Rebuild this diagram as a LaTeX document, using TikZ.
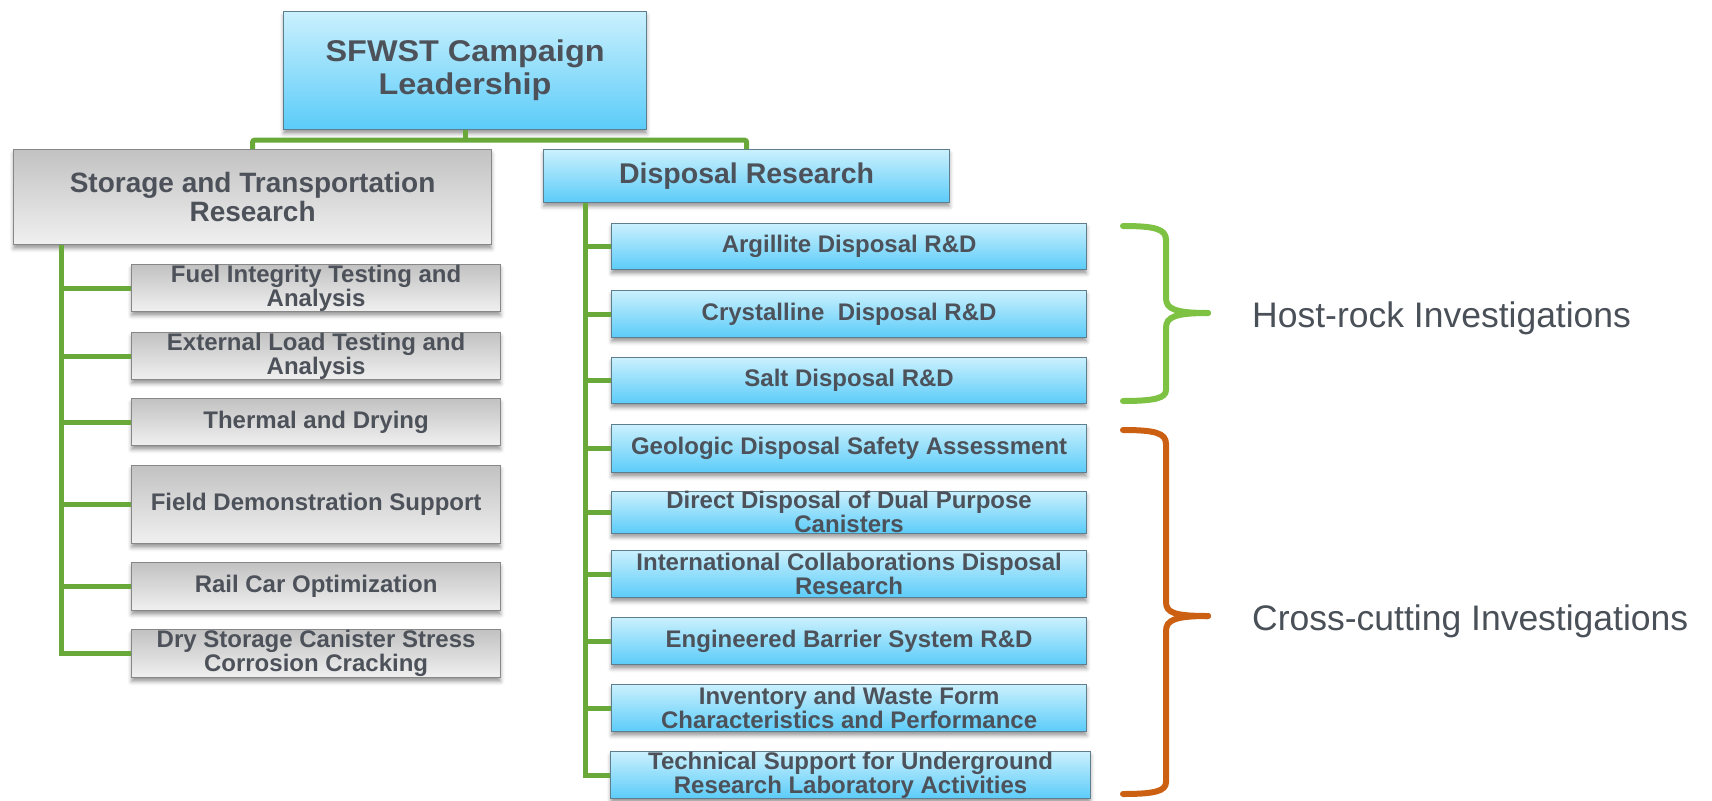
\documentclass[tikz,border=0pt]{standalone}
\usepackage{fontspec}
\setmainfont{Liberation Sans}
\usetikzlibrary{shadows.blur}
\definecolor{txt}{HTML}{4D525A}
\definecolor{bluetop}{HTML}{CAF0FD}
\definecolor{bluebot}{HTML}{5BCCF9}
\definecolor{blueedge}{HTML}{5E7E90}
\definecolor{graytop}{HTML}{C2C2C2}
\definecolor{graybot}{HTML}{F0F0F0}
\definecolor{grayedge}{HTML}{878787}
\definecolor{conncol}{HTML}{68A93A}
\definecolor{brgreen}{HTML}{7DC243}
\definecolor{brorange}{HTML}{CB5F12}
\definecolor{labeltxt}{HTML}{4A5058}
\begin{document}
\begin{tikzpicture}[x=1pt,y=-1pt,
  box/.style={draw, line width=1.2pt, inner sep=0pt, align=center, text=txt, anchor=north west,
    blur shadow={shadow xshift=0pt, shadow yshift=-4pt, shadow blur radius=4pt, shadow opacity=40}},
  bluebox/.style={box, draw=blueedge, top color=bluetop, bottom color=bluebot},
  graybox/.style={box, draw=grayedge, top color=graytop, bottom color=graybot},
  small/.style={font=\bfseries\fontsize{24}{24}\selectfont},
  connector/.style={draw=conncol, line width=5pt},
  brace/.style={line width=6pt, line cap=round},
  grplabel/.style={anchor=base west, inner sep=0pt, text=labeltxt, font=\fontsize{35.5}{40}\selectfont}]
\useasboundingbox (0,0) rectangle (1712,800);

% top level
\node[bluebox, minimum width=363pt, minimum height=118pt,
  font=\fontsize{30}{33}\selectfont\bfseries\addfontfeatures{FakeStretch=1.08}]
  (top) at (283,11) {SFWST Campaign\\Leadership};
\node[graybox, minimum width=478pt, minimum height=95pt, font=\bfseries\fontsize{28}{28.5}\selectfont]
  (st) at (13,149) {Storage and Transportation\\Research};
\node[bluebox, minimum width=406pt, minimum height=53pt, font=\bfseries\fontsize{28.5}{29}\selectfont]
  (dr) at (543,149) {Disposal Research};

% storage children
\node[graybox, small, minimum width=369pt, minimum height=47pt] (fuel)  at (131,264) {Fuel Integrity Testing and\\Analysis};
\node[graybox, small, minimum width=369pt, minimum height=47pt] (ext)   at (131,332) {External Load Testing and\\Analysis};
\node[graybox, small, minimum width=369pt, minimum height=47pt] (therm) at (131,398) {Thermal and Drying};
\node[graybox, small, minimum width=369pt, minimum height=78pt] (field) at (131,465) {Field Demonstration Support};
\node[graybox, small, minimum width=369pt, minimum height=48pt] (rail)  at (131,562) {Rail Car Optimization};
\node[graybox, small, minimum width=369pt, minimum height=48pt] (dry)   at (131,629) {Dry Storage Canister Stress\\Corrosion Cracking};

% disposal children
\node[bluebox, small, minimum width=475pt, minimum height=46pt] (arg)  at (611,223) {Argillite Disposal R\&D};
\node[bluebox, small, minimum width=475pt, minimum height=47pt] (cry)  at (611,290) {Crystalline\ \ Disposal R\&D};
\node[bluebox, small, minimum width=475pt, minimum height=46pt] (salt) at (611,357) {Salt Disposal R\&D};
\node[bluebox, small, minimum width=475pt, minimum height=48pt] (geo)  at (611,424) {Geologic Disposal Safety Assessment};
\node[bluebox, small, minimum width=475pt, minimum height=39pt] (dir)  at (611,491) {Direct Disposal of Dual Purpose\\Canisters};
\node[bluebox, small, minimum width=475pt, minimum height=47pt] (intl) at (611,550) {International Collaborations Disposal\\Research};
\node[bluebox, small, minimum width=475pt, minimum height=47pt] (eng)  at (611,617) {Engineered Barrier System R\&D};
\node[bluebox, small, minimum width=475pt, minimum height=47pt] (inv)  at (611,684) {Inventory and Waste Form\\Characteristics and Performance};
\node[bluebox, small, minimum width=480pt, minimum height=47pt] (tech) at (610,751) {Technical Support for Underground\\Research Laboratory Activities};

% connectors
\draw[connector] (top.south) -- ++(0,10) coordinate (hub);
\draw[connector, rounded corners=2pt] (st.north) |- (hub) -| (dr.north);
\coordinate (lt) at ([xshift=48pt]st.south west);
\foreach \c in {fuel,ext,therm,field,rail,dry}{\draw[connector] (lt) |- (\c.west);}
\coordinate (rt) at ([xshift=42pt]dr.south west);
\foreach \c in {arg,cry,salt,geo,dir,intl,eng,inv,tech}{\draw[connector] (rt) |- (\c.west);}

% braces
\draw[brace, brgreen] (1123,226) .. controls (1155,226) and (1166,229) .. (1166,240) -- (1166,298)
  .. controls (1166,309) and (1175,313) .. (1208,313);
\draw[brace, brgreen] (1208,313) .. controls (1175,313) and (1166,317) .. (1166,328) -- (1166,390)
  .. controls (1166,398) and (1155,401) .. (1123,401);
\draw[brace, brorange] (1123,430) .. controls (1155,430) and (1166,433) .. (1166,444) -- (1166,602)
  .. controls (1166,613) and (1175,616) .. (1208,616);
\draw[brace, brorange] (1208,616) .. controls (1175,616) and (1166,620) .. (1166,631) -- (1166,782)
  .. controls (1166,791) and (1155,794) .. (1123,794);

% group labels
\node[grplabel] (host) at (1252,327) {Host-rock Investigations};
\node[grplabel] (cross) at (1252,630) {Cross-cutting Investigations};
\end{tikzpicture}
\end{document}
